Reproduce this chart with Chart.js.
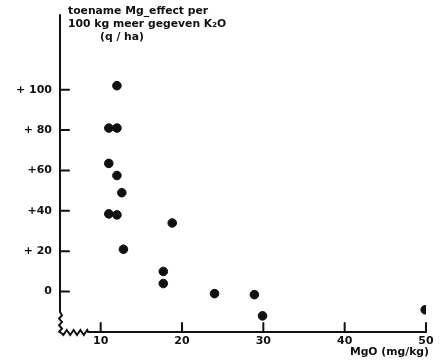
<!DOCTYPE html>
<html>
<head>
<meta charset="utf-8">
<script src="https://cdn.jsdelivr.net/npm/chart.js@4/dist/chart.umd.min.js"></script>
<style>
  body { margin: 0; background: #fff; }
  #wrap { width: 440px; height: 360px; }
</style>
</head>
<body>
<div id="wrap"><canvas id="scatter_chart"></canvas></div>
<script>
// data
var mgO    = [12, 11, 12, 11, 12, 12.6, 11, 12, 18.8, 12.8, 17.7, 17.7, 24, 28.9, 29.9, 49.9];
var effect = [102, 81, 81, 63.5, 57.5, 49, 38.5, 38, 34, 21, 10, 4, -1, -1.5, -12, -9];
var xTicks = [10, 20, 30, 40, 50];
var yTicks = [0, 20, 40, 60, 80, 100];
var yTickLabels = ["0", "+ 20", "+40", "+60", "+ 80", "+ 100"];
var titleLines = ["toename Mg_effect per", "100 kg meer gegeven K\u2082O", "(q / ha)"];
var xTitle = "MgO (mg/kg)";

var ink = "#111";
var fontName = "'DejaVu Sans', sans-serif";

var points = [];
for (var i = 0; i < mgO.length; i++) {
    points.push({x: mgO[i], y: effect[i]});
}

// axes drawn by hand: the lines, inward ticks, the break marks, the y title
var axesPlugin = {
    id: "handAxes",
    afterDraw: function (chart) {
        var c = chart.ctx, a = chart.chartArea;
        var xs = chart.scales.x, ys = chart.scales.y;
        c.save();
        c.strokeStyle = ink;
        c.lineWidth = 2;
        c.lineCap = "round";

        // y axis line with a wavy break near the bottom
        c.beginPath();
        c.moveTo(a.left, a.top);
        c.lineTo(a.left, a.bottom - 20);
        for (var k = 1; k <= 6; k++) {
            c.lineTo(a.left + (k % 2 ? 2 : -1), a.bottom - 20 + k * 3.3);
        }
        c.stroke();

        // x axis line with a zigzag break at the start
        c.beginPath();
        c.moveTo(a.left, a.bottom);
        var zx = a.left;
        for (var j = 1; j <= 8; j++) {
            zx = a.left + j * 3.4;
            c.lineTo(zx, a.bottom + (j % 2 ? 3 : -2));
        }
        c.lineTo(zx + 1, a.bottom);
        c.lineTo(a.right, a.bottom);
        c.stroke();

        // inward tick marks
        yTicks.forEach(function (v) {
            var py = ys.getPixelForValue(v);
            c.beginPath();
            c.moveTo(a.left, py);
            c.lineTo(a.left + 9, py);
            c.stroke();
        });
        xTicks.forEach(function (v) {
            var px = xs.getPixelForValue(v);
            c.beginPath();
            c.moveTo(px, a.bottom);
            c.lineTo(px, a.bottom - 9);
            c.stroke();
        });

        // y title block
        c.fillStyle = ink;
        c.font = "bold 10.8px " + fontName;
        c.textBaseline = "middle";
        c.textAlign = "left";
        c.fillText(titleLines[0], a.left + 8, 11);
        c.fillText(titleLines[1], a.left + 8, 24);
        c.fillText(titleLines[2], a.left + 40, 37);

        // x title
        c.textAlign = "right";
        c.fillText(xTitle, a.right + 3, 352);
        c.restore();
    }
};

var ctx1 = document.getElementById("scatter_chart");
var myScatterChart = new Chart(ctx1, {
    type: "scatter",
    data: {
        datasets: [{
            data: points,
            backgroundColor: ink,
            borderColor: ink,
            pointRadius: 4.3,
            pointHoverRadius: 4.3
        }]
    },
    options: {
        responsive: true,
        maintainAspectRatio: false,
        animation: false,
        layout: {
            padding: {left: 0, right: 14, top: 15, bottom: 0}
        },
        plugins: {
            legend: {display: false},
            tooltip: {enabled: false}
        },
        scales: {
            x: {
                type: "linear",
                min: 5,
                max: 50,
                afterBuildTicks: function (scale) {
                    scale.ticks = xTicks.map(function (v) { return {value: v}; });
                },
                afterFit: function (scale) { scale.height = 28; },
                grid: {display: false, drawTicks: false},
                border: {display: false},
                ticks: {
                    color: ink,
                    padding: 3,
                    maxRotation: 0,
                    font: {family: fontName, size: 11, weight: "bold"}
                }
            },
            y: {
                type: "linear",
                min: -20,
                max: 137,
                afterBuildTicks: function (scale) {
                    scale.ticks = yTicks.map(function (v) { return {value: v}; });
                },
                afterFit: function (scale) { scale.width = 60; },
                grid: {display: false, drawTicks: false},
                border: {display: false},
                ticks: {
                    color: ink,
                    padding: 8,
                    font: {family: fontName, size: 11, weight: "bold"},
                    callback: function (value, index) {
                        return yTickLabels[index];
                    }
                }
            }
        }
    },
    plugins: [axesPlugin]
});
</script>
</body>
</html>
